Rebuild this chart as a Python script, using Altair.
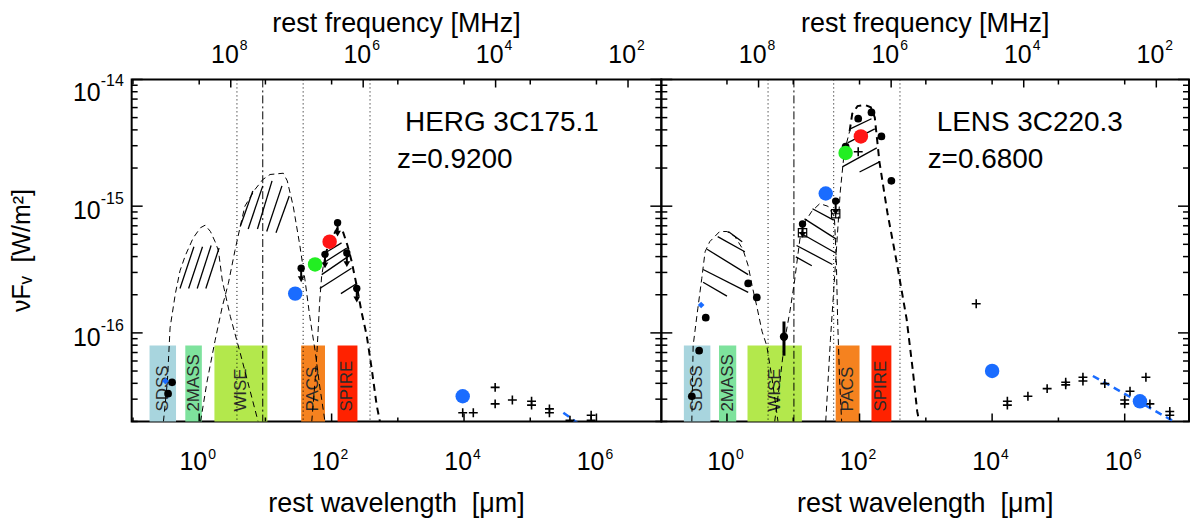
import altair as alt
import pandas as pd

# ---------------------------------------------------------------
# Values, stored as log10(rest wavelength / um)
# and log10(nu F_nu / W m^-2)
# ---------------------------------------------------------------
BANDS = ["SDSS", "2MASS", "WISE", "PACS", "SPIRE"]
BAND_COLORS = ["#a8d5de", "#7ee29d", "#b3e84c", "#f5821f", "#ff2200"]
BAND_TOP = -16.10

# ---------- left panel : HERG 3C175.1 ----------
L_NAME = "HERG 3C175.1"
L_Z = "z=0.9200"
L_BAND_LO = [-0.75, -0.21, 0.23, 1.54, 2.09]
L_BAND_HI = [-0.35, 0.04, 1.03, 1.90, 2.39]
L_DOTTED = [0.57, 1.57, 2.58]
L_DASHDOT = [0.96]

L_STELLAR_LX = [-0.54, -0.48, -0.44, -0.36, -0.29, -0.21, -0.09, 0.02, 0.09, 0.17, 0.24, 0.29, 0.35, 0.47, 0.62, 0.77, 0.89]
L_STELLAR_LY = [-16.70, -16.38, -15.96, -15.69, -15.51, -15.39, -15.25, -15.17, -15.15, -15.20, -15.28, -15.35, -15.59, -15.87, -16.16, -16.46, -16.70]
L_TORUS_LX = [0.02, 0.12, 0.24, 0.35, 0.44, 0.54, 0.62, 0.69, 0.84, 0.96, 1.07, 1.27, 1.33, 1.42, 1.52, 1.60, 1.67, 1.75, 1.82, 1.90]
L_TORUS_LY = [-16.70, -16.38, -16.06, -15.79, -15.61, -15.35, -15.16, -15.00, -14.87, -14.79, -14.75, -14.74, -14.80, -15.00, -15.31, -15.59, -15.87, -16.14, -16.42, -16.70]
L_DUST_LX = [1.70, 1.75, 1.78, 1.82, 1.85, 1.90]
L_DUST_LY = [-16.70, -16.38, -16.14, -15.75, -15.55, -15.39]
L_TOTAL_LX = [1.90, 1.97, 2.08, 2.17, 2.24, 2.30, 2.38, 2.45, 2.53, 2.61, 2.68, 2.73]
L_TOTAL_LY = [-15.39, -15.28, -15.18, -15.20, -15.31, -15.43, -15.63, -15.83, -16.02, -16.30, -16.57, -16.70]

L_HATCH_X1 = [-0.29, -0.16, -0.03, 0.10, 0.62, 0.74, 0.88, 1.02, 1.16, 1.82, 1.85, 1.87, 1.90, 2.14]
L_HATCH_Y1 = [-15.65, -15.65, -15.65, -15.65, -15.16, -15.18, -15.18, -15.20, -15.21, -15.65, -15.54, -15.45, -15.37, -15.69]
L_HATCH_X2 = [-0.08, 0.05, 0.18, 0.30, 0.81, 0.96, 1.10, 1.25, 1.36, 2.30, 2.27, 2.23, 2.15, 2.38]
L_HATCH_Y2 = [-15.32, -15.32, -15.31, -15.33, -14.88, -14.84, -14.80, -14.84, -14.92, -15.49, -15.39, -15.33, -15.29, -15.61]

L_UL_LX = [1.54, 1.90, 2.09, 2.23, 2.38]
L_UL_LY = [-15.49, -15.38, -15.13, -15.37, -15.65]
L_DOT_LX = [-0.41, -0.47]
L_DOT_LY = [-16.39, -16.48]
L_DIAM_LX = [-0.51]
L_DIAM_LY = [-16.38]
L_COL_LX = [1.45, 1.75, 1.97]
L_COL_LY = [-15.69, -15.46, -15.28]
L_CROSS_LX = [3.98, 4.14, 4.47, 4.47, 4.73, 5.02, 5.02, 5.29, 5.29, 5.60, 5.92, 5.92]
L_CROSS_LY = [-16.63, -16.63, -16.43, -16.56, -16.53, -16.54, -16.57, -16.60, -16.63, -16.69, -16.65, -16.69]
L_BIG_LX = [3.98]
L_BIG_LY = [-16.50]
L_SYNC_LX = [5.50, 5.71]
L_SYNC_LY = [-16.63, -16.71]

# ---------- right panel : LENS 3C220.3 ----------
R_NAME = "LENS 3C220.3"
R_Z = "z=0.6800"
R_BAND_LO = [-0.65, -0.12, 0.31, 1.64, 2.18]
R_BAND_HI = [-0.25, 0.14, 1.13, 2.00, 2.48]
R_DOTTED = [0.62, 1.61, 2.61]
R_DASHDOT = [1.01]

R_STELLAR_LX = [-0.53, -0.51, -0.44, -0.38, -0.33, -0.26, -0.11, 0.00, 0.12, 0.24, 0.32, 0.38, 0.45, 0.53, 0.60, 0.68, 0.77]
R_STELLAR_LY = [-16.70, -16.10, -15.81, -15.57, -15.36, -15.28, -15.20, -15.20, -15.24, -15.34, -15.47, -15.63, -15.79, -15.99, -16.10, -16.36, -16.70]
R_TORUS_LX = [0.72, 0.80, 0.87, 0.95, 1.02, 1.10, 1.17, 1.28, 1.40, 1.52, 1.62, 1.65, 1.67, 1.70, 1.73]
R_TORUS_LY = [-16.70, -16.38, -16.06, -15.83, -15.59, -15.26, -15.13, -15.04, -14.98, -15.00, -15.08, -15.43, -15.91, -16.38, -16.70]
R_DUST_LX = [1.49, 1.56, 1.64, 1.71, 1.77, 1.85]
R_DUST_LY = [-16.70, -16.06, -15.43, -14.88, -14.57, -14.41]
R_TOTAL_LX = [1.85, 1.89, 1.97, 2.08, 2.17, 2.23, 2.26, 2.30, 2.42, 2.56, 2.71, 2.80, 2.87, 2.90]
R_TOTAL_LY = [-14.41, -14.27, -14.21, -14.20, -14.22, -14.30, -14.45, -14.65, -15.05, -15.44, -15.89, -16.28, -16.62, -16.70]

R_HATCH_X1 = [0.02, -0.14, -0.30, -0.36, -0.36, 1.29, 1.17, 1.10, 1.05, 1.04, 1.74, 2.00, 1.82, 1.86]
R_HATCH_Y1 = [-15.20, -15.24, -15.34, -15.50, -15.60, -15.02, -15.10, -15.21, -15.31, -15.40, -14.69, -14.73, -14.50, -14.39]
R_HATCH_X2 = [0.23, 0.27, 0.32, 0.32, 0.00, 1.61, 1.65, 1.64, 1.59, 1.28, 2.26, 2.30, 2.23, 2.18]
R_HATCH_Y2 = [-15.28, -15.36, -15.54, -15.68, -15.71, -15.11, -15.26, -15.37, -15.46, -15.47, -14.54, -14.65, -14.39, -14.31]

R_UL_LX = [1.14, 1.64]
R_UL_LY = [-15.14, -14.96]
R_SQ_LY = [-15.21, -15.06]
R_DOT_LX = [2.18, 1.98, 2.33, 1.79, 2.48, 0.32, 0.45, -0.32, -0.42, -0.53]
R_DOT_LY = [-14.26, -14.31, -14.45, -14.53, -14.80, -15.61, -15.72, -15.88, -16.14, -16.50]
R_DIAM_LX = [-0.39]
R_DIAM_LY = [-15.78]
R_ERR_LX = [0.86]
R_ERR_LY = [-16.03]
R_ERR_LO = [-16.18]
R_ERR_HI = [-15.91]
R_COL_LX = [1.49, 1.79, 2.02]
R_COL_LY = [-14.90, -14.58, -14.45]
R_CROSS_LX = [1.98, 3.76, 4.23, 4.23, 4.54, 4.83, 5.11, 5.11, 5.37, 5.37, 5.70, 6.00, 6.00, 6.08, 6.32, 6.38, 6.68, 6.68]
R_CROSS_LY = [-14.57, -15.77, -16.54, -16.57, -16.50, -16.44, -16.39, -16.41, -16.35, -16.38, -16.40, -16.53, -16.56, -16.46, -16.35, -16.56, -16.62, -16.65]
R_BIG_LX = [4.00, 6.23]
R_BIG_LY = [-16.30, -16.54]
R_SYNC_LX = [5.52, 6.78]
R_SYNC_LY = [-16.34, -16.71]

# Herschel-based points: blue, green, red
HERSCHEL_COLORS = ["#1a6cff", "#22ee22", "#ff1515"]
RADIO_BLUE = "#1a6cff"

# ---------------------------------------------------------------
FONT = "Liberation Sans"
H = 343
YMIN, YMAX = -16.70, -14.0
C_UM_MHZ = 2.998e8          # c in um * MHz
NU_LABEL_EXP = [8, 6, 4, 2]  # top-axis labels, MHz
LAM_LABEL_EXP = [0, 2, 4, 6]


def P(v):
    return [10 ** x for x in v]


def pts(lx, ly):
    return pd.DataFrame({"lam": P(lx), "f": P(ly)})


def build_panel(cfg, W, xr, left):
    xs = alt.Scale(type="log", domain=[10 ** xr[0], 10 ** xr[1]], nice=False)
    ys = alt.Scale(type="log", domain=[10 ** YMIN, 10 ** YMAX], nice=False)

    def ex(f="lam"):
        return alt.X(f"{f}:Q", scale=xs, axis=None)

    def ey(f="f"):
        return alt.Y(f"{f}:Q", scale=ys, axis=None)

    L = []
    # bands
    bands = pd.DataFrame({
        "band": BANDS, "lo": P(cfg["band_lo"]), "hi": P(cfg["band_hi"]),
        "mid": [10 ** ((a + b) / 2) for a, b in zip(cfg["band_lo"], cfg["band_hi"])],
        "bot": 10 ** YMIN, "top": 10 ** BAND_TOP})
    L.append(alt.Chart(bands).mark_rect().encode(
        x=ex("lo"), x2="hi:Q", y=ey("bot"), y2="top:Q",
        color=alt.Color("band:N", scale=alt.Scale(domain=BANDS, range=BAND_COLORS), legend=None)))
    L.append(alt.Chart(bands).mark_text(angle=270, align="left", baseline="middle", font=FONT,
                                        fontSize=17, color="#2a2a2a").encode(
        x=ex("mid"), y=alt.value(H - 10), text="band:N"))

    # vertical reference lines
    L.append(alt.Chart(pd.DataFrame({"lam": P(cfg["dotted"])})).mark_rule(
        color="black", strokeWidth=1, strokeDash=[1, 3]).encode(x=ex()))
    L.append(alt.Chart(pd.DataFrame({"lam": P(cfg["dashdot"])})).mark_rule(
        color="black", strokeWidth=1, strokeDash=[8, 3, 2, 3]).encode(x=ex()))

    # model curves
    def curves(lst):
        rows = []
        for cid, (lx, ly) in enumerate(lst):
            for i, (a, b) in enumerate(zip(lx, ly)):
                rows.append({"cid": cid, "i": i, "lam": 10 ** a, "f": 10 ** b})
        return pd.DataFrame(rows)

    L.append(alt.Chart(curves(cfg["thin"])).mark_line(
        color="black", strokeWidth=1, strokeDash=[6, 4], clip=True).encode(
        x=ex(), y=ey(), detail="cid:N", order="i:Q"))
    L.append(alt.Chart(curves(cfg["bold"])).mark_line(
        color="black", strokeWidth=2, strokeDash=[7, 5], clip=True).encode(
        x=ex(), y=ey(), detail="cid:N", order="i:Q"))

    # hatching
    hd = pd.DataFrame({"lam": P(cfg["hx1"]), "f": P(cfg["hy1"]),
                       "lam2": P(cfg["hx2"]), "f2": P(cfg["hy2"])})
    L.append(alt.Chart(hd).mark_rule(color="black", strokeWidth=1.3, clip=True).encode(
        x=ex(), y=ey(), x2="lam2:Q", y2="f2:Q"))

    # synchrotron fit
    L.append(alt.Chart(pts(cfg["sync_x"], cfg["sync_y"])).mark_line(
        color=RADIO_BLUE, strokeWidth=2.5, strokeDash=[7, 5], clip=True).encode(x=ex(), y=ey()))

    # radio crosses
    L.append(alt.Chart(pts(cfg["cross_x"], cfg["cross_y"])).mark_point(
        shape="M-1,0L1,0M0,-1L0,1", size=80, filled=False, color="black", strokeWidth=1.6,
        opacity=1, clip=True).encode(x=ex(), y=ey()))

    # upper limits: dot + arrow
    ul = pts(cfg["ul_x"], cfg["ul_y"])
    L.append(alt.Chart(ul).mark_rule(color="black", strokeWidth=2, y2Offset=11, clip=True).encode(
        x=ex(), y=ey(), y2="f:Q"))
    L.append(alt.Chart(ul).mark_point(shape="triangle-down", filled=True, size=45, color="black",
                                      opacity=1, yOffset=11, clip=True).encode(x=ex(), y=ey()))
    L.append(alt.Chart(ul).mark_circle(size=55, color="black", opacity=1, clip=True).encode(x=ex(), y=ey()))

    if "sq_y" in cfg:
        L.append(alt.Chart(pts(cfg["ul_x"], cfg["sq_y"])).mark_point(
            shape="M-1,-1H1V1H-1ZM-1,0H1M0,-1V1", size=70, filled=False, color="black",
            strokeWidth=1.2, opacity=1).encode(x=ex(), y=ey()))

    if "err_x" in cfg:
        ed = pd.DataFrame({"lam": P(cfg["err_x"]), "f": P(cfg["err_y"]),
                           "lo": P(cfg["err_lo"]), "hi": P(cfg["err_hi"])})
        L.append(alt.Chart(ed).mark_rule(color="black", strokeWidth=3).encode(
            x=ex(), y=ey("lo"), y2="hi:Q"))
        L.append(alt.Chart(ed).mark_circle(size=70, color="black", opacity=1).encode(x=ex(), y=ey()))

    # black photometry dots
    L.append(alt.Chart(pts(cfg["dot_x"], cfg["dot_y"])).mark_circle(
        size=60, color="black", opacity=1, clip=True).encode(x=ex(), y=ey()))
    # small blue diamond
    L.append(alt.Chart(pts(cfg["diam_x"], cfg["diam_y"])).mark_point(
        shape="diamond", filled=True, size=45, color=RADIO_BLUE, opacity=1).encode(x=ex(), y=ey()))
    # Herschel coloured points (one layer per colour)
    for i, col in enumerate(HERSCHEL_COLORS):
        L.append(alt.Chart(pts([cfg["col_x"][i]], [cfg["col_y"][i]])).mark_circle(
            size=210, color=col, opacity=1).encode(x=ex(), y=ey()))
    # big blue radio points
    L.append(alt.Chart(pts(cfg["big_x"], cfg["big_y"])).mark_circle(
        size=210, color=RADIO_BLUE, opacity=1).encode(x=ex(), y=ey()))

    # ---------- axes drawn by hand ----------
    dec = pd.DataFrame({"lam": [10.0 ** k for k in range(-1, 8)],
                        "even": [k % 2 == 0 for k in range(-1, 8)]})
    dec_even = dec[dec.even]
    dec_odd = dec[~dec.even]
    L.append(alt.Chart(dec_even).mark_rule(color="black", strokeWidth=1.5, clip=True).encode(
        x=ex(), y=alt.value(H), y2=alt.value(H - 8)))
    L.append(alt.Chart(dec_odd).mark_rule(color="black", strokeWidth=1.5, clip=True).encode(
        x=ex(), y=alt.value(H), y2=alt.value(H - 4)))
    L.append(alt.Chart(dec).mark_rule(color="black", strokeWidth=1.5, clip=True).encode(
        x=ex(), y=alt.value(0), y2=alt.value(5)))
    nu = pd.DataFrame({"lam": [C_UM_MHZ / 10.0 ** e for e in NU_LABEL_EXP],
                       "e": [str(e) for e in NU_LABEL_EXP]})
    L.append(alt.Chart(nu).mark_rule(color="black", strokeWidth=1.5, clip=True).encode(
        x=ex(), y=alt.value(0), y2=alt.value(8)))

    ymaj = pd.DataFrame({"f": [1e-14, 1e-15, 1e-16]})
    ymin = pd.DataFrame({"f": [m * 10.0 ** p for p in (-17, -16, -15) for m in range(2, 10)
                               if m * 10.0 ** p >= 10 ** YMIN]})
    for x0, sgn in ((0, 1), (W, -1)):
        L.append(alt.Chart(ymaj).mark_rule(color="black", strokeWidth=1.5).encode(
            y=ey(), x=alt.value(x0), x2=alt.value(x0 + sgn * 11)))
        L.append(alt.Chart(ymin).mark_rule(color="black", strokeWidth=1.5).encode(
            y=ey(), x=alt.value(x0), x2=alt.value(x0 + sgn * 6)))

    # tick labels : bottom (wavelength)
    bl = pd.DataFrame({"lam": [10.0 ** e for e in LAM_LABEL_EXP], "e": [str(e) for e in LAM_LABEL_EXP]})
    L.append(alt.Chart(bl).mark_text(text="10", align="right", baseline="alphabetic", dx=8,
                                     font=FONT, fontSize=25, color="black").encode(
        x=ex(), y=alt.value(H + 49)))
    L.append(alt.Chart(bl).mark_text(align="left", baseline="alphabetic", dx=9,
                                     font=FONT, fontSize=14, color="black").encode(
        x=ex(), y=alt.value(H + 37), text="e:N"))
    # top (frequency)
    L.append(alt.Chart(nu).mark_text(text="10", align="right", baseline="alphabetic", dx=8,
                                     font=FONT, fontSize=25, color="black").encode(
        x=ex(), y=alt.value(-16)))
    L.append(alt.Chart(nu).mark_text(align="left", baseline="alphabetic", dx=9,
                                     font=FONT, fontSize=14, color="black").encode(
        x=ex(), y=alt.value(-30), text="e:N"))

    # axis titles
    L.append(alt.Chart(pd.DataFrame({"t": ["rest frequency [MHz]"]})).mark_text(
        align="center", baseline="alphabetic", font=FONT, fontSize=27, color="black").encode(
        x=alt.value(W / 2), y=alt.value(-48), text="t:N"))
    L.append(alt.Chart(pd.DataFrame({"t": ["rest wavelength \u00a0[\u03bcm]"]})).mark_text(
        align="center", baseline="alphabetic", font=FONT, fontSize=27, color="black").encode(
        x=alt.value(W / 2), y=alt.value(H + 91), text="t:N"))

    # source name / redshift
    L.append(alt.Chart(pd.DataFrame({"t": [cfg["name"]]})).mark_text(
        align="left", baseline="alphabetic", font=FONT, fontSize=28, color="black").encode(
        x=alt.value(cfg["name_x"]), y=alt.value(52), text="t:N"))
    L.append(alt.Chart(pd.DataFrame({"t": [cfg["z"]]})).mark_text(
        align="left", baseline="alphabetic", font=FONT, fontSize=28, color="black").encode(
        x=alt.value(cfg["z_x"]), y=alt.value(89), text="t:N"))

    if left:
        yl = pd.DataFrame({"f": [1e-15, 1e-16], "e": ["-15", "-16"]})
        yt = pd.DataFrame({"f": [1e-14], "e": ["-14"]})
        for d, off in ((yl, 13), (yt, 22)):
            L.append(alt.Chart(d).mark_text(text="10", align="right", baseline="alphabetic", dy=off,
                                            font=FONT, fontSize=25, color="black").encode(
                x=alt.value(-31), y=ey()))
            L.append(alt.Chart(d).mark_text(align="left", baseline="alphabetic", dy=off - 15,
                                            font=FONT, fontSize=16, color="black").encode(
                x=alt.value(-31), y=ey(), text="e:N"))
        L.append(alt.Chart(pd.DataFrame({"t": ["\u03bdF\u1d65 \u00a0[W/m\u00b2]"]})).mark_text(
            angle=270, align="center", baseline="middle", font=FONT, fontSize=25, color="black").encode(
            x=alt.value(-110), y=alt.value(H / 2), text="t:N"))
        # invisible frame fixing the outer margin of the figure
        L.append(alt.Chart(pd.DataFrame({"t": [0]})).mark_rect(opacity=0).encode(
            x=alt.value(-131), x2=alt.value(0), y=alt.value(-78), y2=alt.value(H + 97)))

    return alt.layer(*L).properties(width=W, height=H)


LEFT = dict(band_lo=L_BAND_LO, band_hi=L_BAND_HI, dotted=L_DOTTED, dashdot=L_DASHDOT,
            thin=[(L_STELLAR_LX, L_STELLAR_LY), (L_TORUS_LX, L_TORUS_LY), (L_DUST_LX, L_DUST_LY)],
            bold=[(L_TOTAL_LX, L_TOTAL_LY)],
            hx1=L_HATCH_X1, hy1=L_HATCH_Y1, hx2=L_HATCH_X2, hy2=L_HATCH_Y2,
            sync_x=L_SYNC_LX, sync_y=L_SYNC_LY, cross_x=L_CROSS_LX, cross_y=L_CROSS_LY,
            ul_x=L_UL_LX, ul_y=L_UL_LY, dot_x=L_DOT_LX, dot_y=L_DOT_LY,
            diam_x=L_DIAM_LX, diam_y=L_DIAM_LY, col_x=L_COL_LX, col_y=L_COL_LY,
            big_x=L_BIG_LX, big_y=L_BIG_LY, name=L_NAME, z=L_Z, name_x=274, z_x=266)

RIGHT = dict(band_lo=R_BAND_LO, band_hi=R_BAND_HI, dotted=R_DOTTED, dashdot=R_DASHDOT,
             thin=[(R_STELLAR_LX, R_STELLAR_LY), (R_TORUS_LX, R_TORUS_LY), (R_DUST_LX, R_DUST_LY)],
             bold=[(R_TOTAL_LX, R_TOTAL_LY)],
             hx1=R_HATCH_X1, hy1=R_HATCH_Y1, hx2=R_HATCH_X2, hy2=R_HATCH_Y2,
             sync_x=R_SYNC_LX, sync_y=R_SYNC_LY, cross_x=R_CROSS_LX, cross_y=R_CROSS_LY,
             ul_x=R_UL_LX, ul_y=R_UL_LY, sq_y=R_SQ_LY, dot_x=R_DOT_LX, dot_y=R_DOT_LY,
             diam_x=R_DIAM_LX, diam_y=R_DIAM_LY, col_x=R_COL_LX, col_y=R_COL_LY,
             err_x=R_ERR_LX, err_y=R_ERR_LY, err_lo=R_ERR_LO, err_hi=R_ERR_HI,
             big_x=R_BIG_LX, big_y=R_BIG_LY, name=R_NAME, z=R_Z, name_x=276, z_x=267)

left = build_panel(LEFT, 531, (-1.02, 6.98), True)
right = build_panel(RIGHT, 529, (-0.99, 6.97), False)

chart = alt.hconcat(left, right, spacing=0, bounds="flush").properties(padding=0).configure_view(
    stroke="black", strokeWidth=2)

chart.save("out.html", embed_options={"renderer": "svg", "actions": False})
